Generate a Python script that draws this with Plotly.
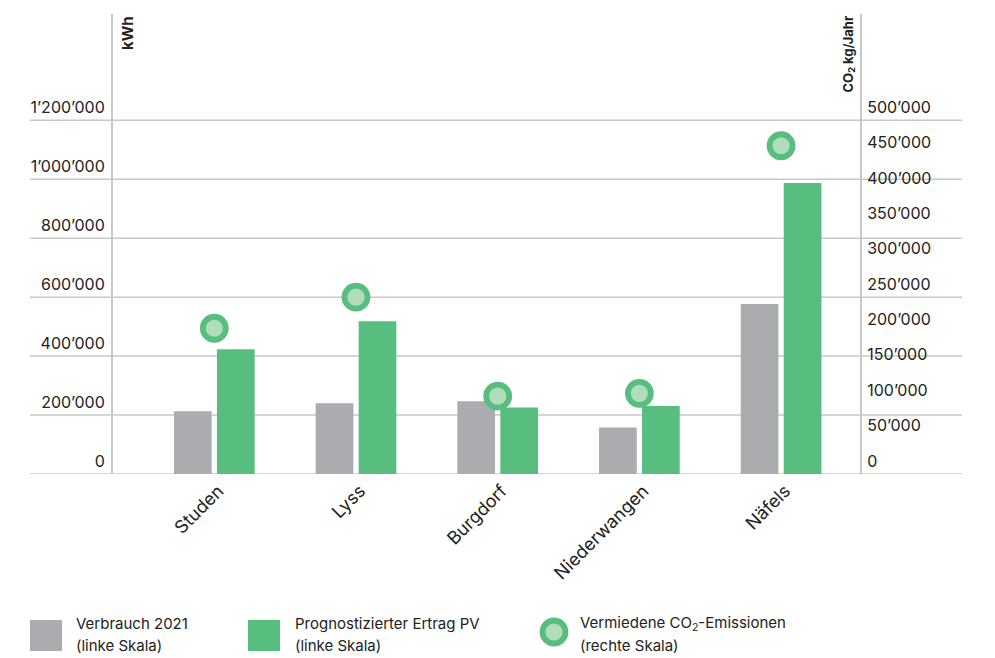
import plotly.graph_objects as go

# ---- data ----
standorte = ["Studen", "Lyss", "Burgdorf", "Niederwangen", "Näfels"]
verbrauch_2021 = [213000, 240000, 247000, 158000, 577000]          # kWh (linke Skala)
ertrag_pv = [423000, 518000, 226000, 231000, 987000]               # kWh (linke Skala)
co2_vermieden = [206000, 250000, 110000, 114000, 464000]           # kg/Jahr (rechte Skala)

left_ticks = [0, 200000, 400000, 600000, 800000, 1000000, 1200000]
right_ticks = [0, 50000, 100000, 150000, 200000, 250000, 300000, 350000, 400000, 450000, 500000]

def fmt(v):
    return f"{v:,}".replace(",", "’")

GRAY = "#ABACAF"
GREEN = "#58BE7F"
LIGHT = "#B2DDBD"
GRID = "#C8C8C8"
TXT = "#222222"
FONT = "Inter"

W, H = 995, 658
L, R, T, B = 113, 135, 14, 184
PW, PH = W - L - R, H - T - B

def xp(px):
    return (px - L) / PW

def yp(py):
    return (H - B - py) / PH

left_max = 1560600
right_max = left_max / 2.4

fig = go.Figure()
fig.add_trace(go.Bar(x=standorte, y=verbrauch_2021, marker=dict(color=GRAY, line=dict(width=0)),
                     name="Verbrauch 2021", showlegend=False))
fig.add_trace(go.Bar(x=standorte, y=ertrag_pv, marker=dict(color=GREEN, line=dict(width=0)),
                     name="Prognostizierter Ertrag PV", showlegend=False))
fig.add_trace(go.Scatter(x=standorte, y=co2_vermieden, yaxis="y2", mode="markers",
                         marker=dict(size=23, color=LIGHT, line=dict(color=GREEN, width=5.8)),
                         name="Vermiedene CO2-Emissionen", showlegend=False))

shapes = []
# horizontal grid lines extending beyond the axes
for v in left_ticks:
    shapes.append(dict(type="line", xref="paper", yref="y", x0=xp(30), x1=xp(962), y0=v, y1=v,
                       line=dict(color=GRID, width=1.5), layer="below"))

# legend symbols
shapes.append(dict(type="rect", xref="paper", yref="paper", x0=xp(30), x1=xp(62), y0=yp(651), y1=yp(620),
                   fillcolor=GRAY, line=dict(width=0)))
shapes.append(dict(type="rect", xref="paper", yref="paper", x0=xp(248), x1=xp(280), y0=yp(651), y1=yp(620),
                   fillcolor=GREEN, line=dict(width=0)))
shapes.append(dict(type="circle", xref="paper", yref="paper", x0=xp(542.5), x1=xp(565.5), y0=yp(643.5), y1=yp(620.5),
                   fillcolor=LIGHT, line=dict(color=GREEN, width=5.8)))

annotations = []
def legend_text(px, l1, l2):
    annotations.append(dict(text=l1, xref="paper", yref="paper", x=xp(px), y=yp(623), xanchor="left",
                            yanchor="middle", showarrow=False, font=dict(family=FONT, size=15, color=TXT)))
    annotations.append(dict(text=l2, xref="paper", yref="paper", x=xp(px), y=yp(645), xanchor="left",
                            yanchor="middle", showarrow=False, font=dict(family=FONT, size=15, color=TXT)))

legend_text(74, "Verbrauch 2021", "(linke Skala)")
legend_text(293, "Prognostizierter Ertrag PV", "(linke Skala)")
legend_text(578, "Vermiedene CO<sub>2</sub>-Emissionen", "(rechte Skala)")

# axis titles
annotations.append(dict(text="<b>kWh</b>", xref="paper", yref="paper", x=0, xshift=14, y=1, yanchor="top",
                        xanchor="center", textangle=-90, showarrow=False,
                        font=dict(family=FONT, size=15, color=TXT)))
annotations.append(dict(text="<b>CO<sub>2</sub> kg/Jahr</b>", xref="paper", yref="paper", x=1, xshift=-12, y=1,
                        yanchor="top", xanchor="center", textangle=-90, showarrow=False,
                        font=dict(family=FONT, size=13, color=TXT)))

fig.update_layout(
    width=W, height=H,
    margin=dict(l=L, r=R, t=T, b=B, pad=0),
    paper_bgcolor="white", plot_bgcolor="white",
    barmode="group", bargap=0.393, bargroupgap=0.123,
    font=dict(family=FONT, color=TXT),
    xaxis=dict(range=[-0.715, 4.557], showgrid=False, zeroline=False, showline=False,
               tickangle=-45, tickfont=dict(family=FONT, size=18, color=TXT), ticks="",
               ticklabelshift=4, ticklabelstandoff=2),
    yaxis=dict(range=[0, left_max], tickvals=left_ticks, ticktext=[fmt(v) for v in left_ticks],
               showgrid=False, zeroline=False, showline=True, linecolor=GRID, linewidth=2,
               ticks="", ticklabelshift=-13, ticklabelstandoff=3,
               tickfont=dict(family=FONT, size=16, color=TXT)),
    yaxis2=dict(range=[0, right_max], overlaying="y", side="right", tickvals=right_ticks,
                ticktext=[fmt(v) for v in right_ticks], showgrid=False, zeroline=False,
                showline=True, linecolor=GRID, linewidth=2, ticks="", ticklabelshift=-13,
                ticklabelstandoff=2, tickfont=dict(family=FONT, size=16, color=TXT)),
    shapes=shapes, annotations=annotations,
)

fig.write_html("out.html")
